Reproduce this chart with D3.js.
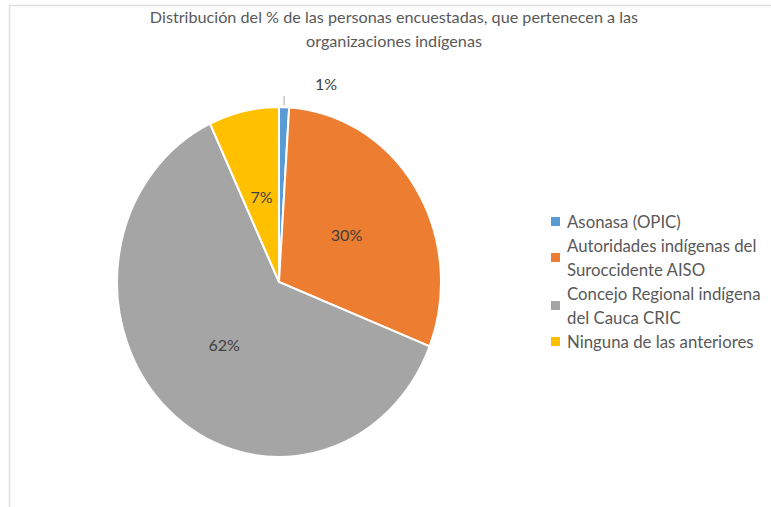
<!DOCTYPE html>
<html>
<head>
<meta charset="utf-8">
<script src="https://cdn.jsdelivr.net/npm/d3@7"></script>
<style>
  body { margin: 0; background: #fff; }
  svg text { font-family: Lato, "Open Sans", sans-serif; }
</style>
</head>
<body>
<div class="chart"></div>
<script>
var titleLines = ["Distribución del % de las personas encuestadas, que pertenecen a las", "organizaciones indígenas"];
var categories = ["Asonasa (OPIC)", "Autoridades indígenas del Suroccidente AISO", "Concejo Regional indígena del Cauca CRIC", "Ninguna de las anteriores"];
var legendLines = [["Asonasa (OPIC)"], ["Autoridades indígenas del", "Suroccidente AISO"], ["Concejo Regional indígena", "del Cauca CRIC"], ["Ninguna de las anteriores"]];
var values = [1, 30, 62, 7];
var colors = ["#5b9bd5", "#ed7d31", "#a5a5a5", "#ffc000"];

var width = 771, height = 507;
var cx = 279, cy = 282, r = 162, stretch = 1.08;

var svg = d3.select(".chart").append("svg")
  .attr("width", width)
  .attr("height", height);

// frame lines (top and left)
svg.append("line").attr("x1", 9.5).attr("x2", width).attr("y1", 5.5).attr("y2", 5.5)
  .attr("stroke", "#dedede").attr("stroke-width", 1.5);
svg.append("line").attr("x1", 9.5).attr("x2", 9.5).attr("y1", 5.5).attr("y2", height)
  .attr("stroke", "#dedede").attr("stroke-width", 1.5);

svg.append("g").selectAll("text")
  .data(titleLines)
  .enter().append("text")
  .attr("x", 394)
  .attr("y", function(d, i) { return 23 + i * 24; })
  .attr("text-anchor", "middle")
  .attr("fill", "#595959")
  .style("font-size", "16.2px")
  .text(function(d) { return d; });

var pie = d3.pie().sort(null).value(function(d) { return d; });
var arcs = pie(values);
var arc = d3.arc().innerRadius(0).outerRadius(r);

var g = svg.append("g")
  .attr("transform", "translate(" + cx + "," + cy + ") scale(1," + stretch + ")");

g.selectAll("path")
  .data(arcs)
  .enter().append("path")
  .attr("d", arc)
  .attr("fill", function(d, i) { return colors[i]; })
  .attr("stroke", "#fff")
  .attr("stroke-width", 2)
  .attr("vector-effect", "non-scaling-stroke");

// labels
var labelArc = d3.arc().innerRadius(80).outerRadius(80);
var labels = svg.append("g").attr("transform", "translate(" + cx + "," + cy + ")");

arcs.forEach(function(d, i) {
  var mid = (d.startAngle + d.endAngle) / 2;
  if (values[i] < 3) {
    // small slice: label outside with a short leader
    var lx = Math.sin(mid) * r, ly = -Math.cos(mid) * r * stretch;
    labels.append("line")
      .attr("x1", lx).attr("x2", lx)
      .attr("y1", ly - 2).attr("y2", ly - 11)
      .attr("stroke", "#a6a6a6").attr("stroke-width", 1);
    labels.append("text")
      .attr("x", lx + 42).attr("y", ly - 23)
      .attr("dy", "0.35em")
      .attr("text-anchor", "middle")
      .attr("fill", "#404040")
      .style("font-size", "16px")
      .text(values[i] + "%");
  } else {
    var c = labelArc.centroid(d);
    labels.append("text")
      .attr("x", c[0]).attr("y", c[1] * stretch)
      .attr("dy", "0.35em")
      .attr("text-anchor", "middle")
      .attr("fill", "#404040")
      .style("font-size", "16px")
      .text(values[i] + "%");
  }
});

// legend
var legend = svg.append("g").attr("class", "legend");
var ly = 222;
legendLines.forEach(function(lines, i) {
  var h = (lines.length - 1) * 24;
  legend.append("rect")
    .attr("x", 551).attr("y", ly + h / 2 - 5)
    .attr("width", 9).attr("height", 9)
    .attr("fill", colors[i]);
  lines.forEach(function(t, j) {
    legend.append("text")
      .attr("x", 567).attr("y", ly + j * 24)
      .attr("dy", "0.35em")
      .attr("fill", "#595959")
      .style("font-size", "16.8px")
      .text(t);
  });
  ly += h + 24;
});
</script>
</body>
</html>
